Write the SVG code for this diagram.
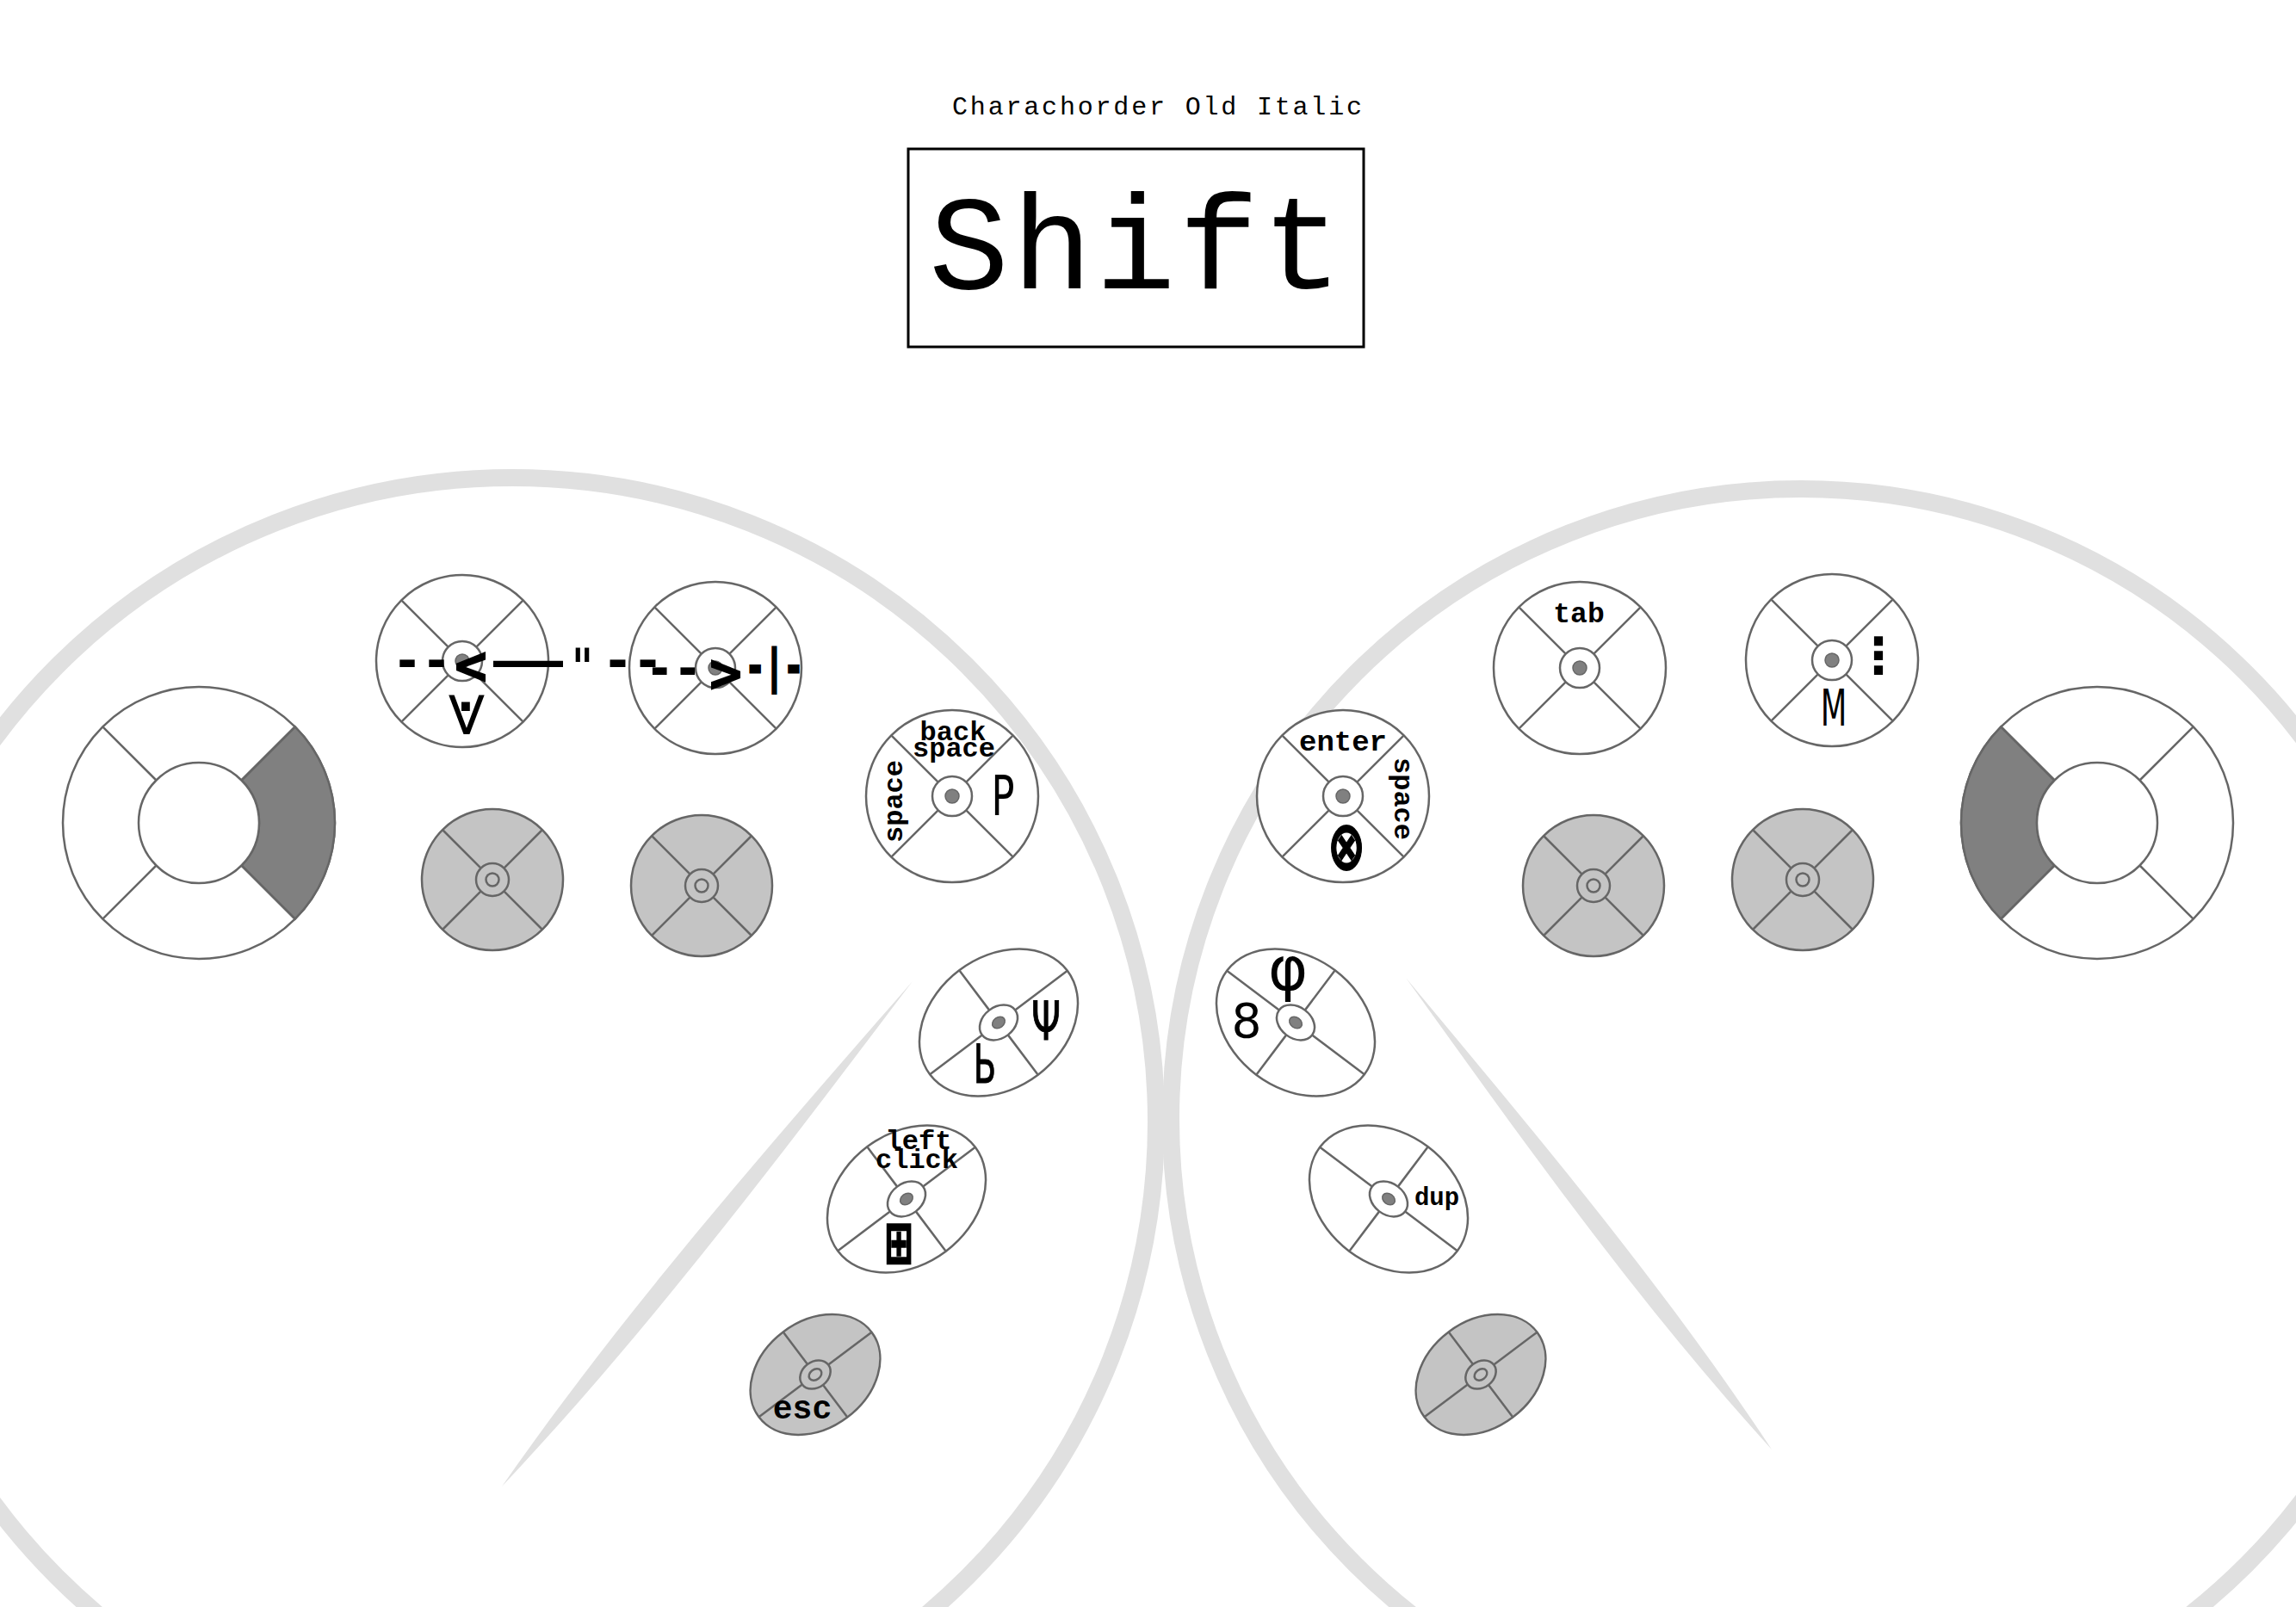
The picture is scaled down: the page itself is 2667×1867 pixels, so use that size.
<svg xmlns="http://www.w3.org/2000/svg" xmlns:xlink="http://www.w3.org/1999/xlink" width="2667" height="1867" viewBox="0 0 2667 1867">
<style>
.k{fill:#fff;stroke:#666;stroke-width:2.5}
.g{fill:#c4c4c4;stroke:#666;stroke-width:2.5}
.ln{fill:none;stroke:#666;stroke-width:2.5}
.dot{fill:#808080;stroke:#666;stroke-width:1.5}
.band{fill:none;stroke:#e0e0e0;stroke-width:20}
.lens{fill:#e0e0e0}
.lbl{font-family:"Liberation Mono","DejaVu Sans Mono",monospace;font-weight:bold;fill:#000}
.gl{font-family:"DejaVu Sans","Noto Sans",sans-serif;fill:#000}
.dm{font-family:"DejaVu Sans Mono","Liberation Mono",monospace;font-weight:bold;fill:#000}
</style>
<defs>
<g id="wkey">
<circle r="100" class="k"/>
<path class="ln" d="M16.3,16.3L70.7,70.7M-16.3,16.3L-70.7,70.7M16.3,-16.3L70.7,-70.7M-16.3,-16.3L-70.7,-70.7"/>
<circle r="23" class="k"/>
<circle r="8" class="dot"/>
</g>
<g id="gkey">
<circle r="82" class="g"/>
<path class="ln" d="M13.4,13.4L58,58M-13.4,13.4L-58,58M13.4,-13.4L58,-58M-13.4,-13.4L-58,-58"/>
<circle r="19" class="g"/>
<circle r="7.5" class="g"/>
</g>
<g id="well">
<ellipse rx="100" ry="76" class="k"/>
<path class="ln" d="M24,0L100,0M-24,0L-100,0M0,18L0,76M0,-18L0,-76"/>
<ellipse rx="24" ry="18" class="k"/>
<ellipse rx="8" ry="6" class="dot"/>
</g>
<g id="gell">
<ellipse rx="82" ry="62" class="g"/>
<path class="ln" d="M19,0L82,0M-19,0L-82,0M0,15L0,62M0,-15L0,-62"/>
<ellipse rx="19" ry="15" class="g"/>
<ellipse rx="8" ry="6" class="g"/>
</g>
</defs>
<rect width="2667" height="1867" fill="#fff"/>
<g id="background">
<circle cx="595" cy="1303" r="748" class="band"/>
<circle cx="2092" cy="1300" r="732" class="band"/>
<path class="lens" d="M1060,1140 C908,1341 756,1543 583,1727 C728,1519 894,1330 1060,1140Z"/>
<path class="lens" d="M1633,1136 C1781,1314 1930,1490 2058,1684 C1902,1513 1768,1324 1633,1136Z"/>
</g>
<g id="title">
<text x="1344" y="133" font-family="Liberation Mono, monospace" font-size="30" text-anchor="middle" textLength="476" fill="#000">Charachorder Old Italic</text>
<rect x="1055" y="173" width="529" height="230" fill="none" stroke="#000" stroke-width="3"/>
<text x="1319" y="335" font-family="Liberation Mono, monospace" font-size="155" text-anchor="middle" textLength="480" fill="#000">Shift</text>
</g>
<g id="ring-left" transform="translate(231,956)">
<circle r="158" class="k"/>
<path d="M49.5,-49.5L111.7,-111.7A158,158 0 0 1 111.7,111.7L49.5,49.5A70,70 0 0 0 49.5,-49.5Z" fill="#808080" stroke="#666" stroke-width="2.5"/>
<path class="ln" d="M49.5,49.5L111.7,111.7M-49.5,49.5L-111.7,111.7M49.5,-49.5L111.7,-111.7M-49.5,-49.5L-111.7,-111.7"/>
<circle r="70" class="k"/>
</g>
<g id="ring-right" transform="translate(2436,956)">
<circle r="158" class="k"/>
<path d="M-49.5,-49.5L-111.7,-111.7A158,158 0 0 0 -111.7,111.7L-49.5,49.5A70,70 0 0 1 -49.5,-49.5Z" fill="#808080" stroke="#666" stroke-width="2.5"/>
<path class="ln" d="M49.5,49.5L111.7,111.7M-49.5,49.5L-111.7,111.7M49.5,-49.5L111.7,-111.7M-49.5,-49.5L-111.7,-111.7"/>
<circle r="70" class="k"/>
</g>
<g id="key-l1">
<use xlink:href="#wkey" href="#wkey" transform="translate(537,768)"/>
<text class="gl" x="542" y="853" font-size="62" text-anchor="middle">V</text>
<text class="gl" x="541" y="840" font-size="56" font-weight="bold" text-anchor="middle">·</text>
</g>
<g id="key-l2">
<use xlink:href="#wkey" href="#wkey" transform="translate(831,776)"/>
</g>
<g id="labels-top">
<text class="dm" x="456" y="788" font-size="60" textLength="68" lengthAdjust="spacingAndGlyphs">--</text>
<text class="dm" x="528" y="795" font-size="64" textLength="38" lengthAdjust="spacingAndGlyphs" stroke="#000" stroke-width="1.5">&lt;</text>
<text class="dm" x="573" y="788" font-size="60" textLength="81" lengthAdjust="spacingAndGlyphs">—</text>
<text class="dm" x="664" y="797" font-size="60" textLength="25" lengthAdjust="spacingAndGlyphs">"</text>
<text class="dm" x="700" y="788" font-size="60" textLength="70" lengthAdjust="spacingAndGlyphs">--</text>
<text class="dm" x="750" y="797" font-size="60" textLength="65" lengthAdjust="spacingAndGlyphs">--</text>
<text class="dm" x="824" y="804" font-size="64" textLength="38" lengthAdjust="spacingAndGlyphs" stroke="#000" stroke-width="1.5">&gt;</text>
<text class="dm" x="866" y="793" font-size="54" textLength="67" lengthAdjust="spacingAndGlyphs" stroke="#000" stroke-width="3">-|-</text>
</g>
<g id="key-l3"><use xlink:href="#gkey" href="#gkey" transform="translate(572,1022)"/></g>
<g id="key-l4"><use xlink:href="#gkey" href="#gkey" transform="translate(815,1029)"/></g>
<g id="key-backspace">
<use xlink:href="#wkey" href="#wkey" transform="translate(1106,925)"/>
<text class="lbl" x="1107" y="860" font-size="32" text-anchor="middle">back</text>
<text class="lbl" x="1108" y="879" font-size="32" text-anchor="middle">space</text>
<text class="lbl" font-size="32" text-anchor="middle" transform="translate(1048,931) rotate(-90)">space</text>
<text class="gl" font-size="64" text-anchor="middle" transform="translate(1165,947) scale(0.7,1)">P</text>
</g>
<g id="key-enter">
<use xlink:href="#wkey" href="#wkey" transform="translate(1560,925)"/>
<text class="lbl" x="1560" y="872" font-size="34" text-anchor="middle">enter</text>
<text class="lbl" font-size="32" text-anchor="middle" transform="translate(1620,928) rotate(90)">space</text>
<text class="gl" font-size="74" font-weight="bold" text-anchor="middle" transform="translate(1564,1010) scale(0.72,1.08)" stroke="#000" stroke-width="1.5">⊗</text>
</g>
<g id="key-tab">
<use xlink:href="#wkey" href="#wkey" transform="translate(1835,776)"/>
<text class="lbl" x="1834" y="723" font-size="33" text-anchor="middle">tab</text>
</g>
<g id="key-m">
<use xlink:href="#wkey" href="#wkey" transform="translate(2128,767)"/>
<text class="gl" font-size="59" text-anchor="middle" transform="translate(2130,843) scale(0.6,1)">M</text>
<text class="gl" x="2182" y="782" font-size="58" font-weight="bold" text-anchor="middle">⋮</text>
</g>
<g id="key-r3"><use xlink:href="#gkey" href="#gkey" transform="translate(1851,1029)"/></g>
<g id="key-r4"><use xlink:href="#gkey" href="#gkey" transform="translate(2094,1022)"/></g>
<g id="key-thumb-l1">
<use xlink:href="#well" href="#well" transform="translate(1160,1188) rotate(-37)"/>
<text class="gl" font-size="62" text-anchor="middle" transform="translate(1215,1208) scale(0.7,1)" stroke="#000" stroke-width="1">Ψ</text>
<text class="gl" font-size="62" text-anchor="middle" transform="translate(1144,1258) scale(0.62,1)" stroke="#000" stroke-width="1">Ь</text>
</g>
<g id="key-thumb-l2">
<use xlink:href="#well" href="#well" transform="translate(1053,1393) rotate(-37)"/>
<text class="lbl" x="1067" y="1335" font-size="32" text-anchor="middle">left</text>
<text class="lbl" x="1065" y="1357" font-size="32" text-anchor="middle">click</text>
<text class="gl" font-size="66" font-weight="bold" text-anchor="middle" transform="translate(1044,1466) scale(0.6,1)" stroke="#000" stroke-width="2.5">⊞</text>
</g>
<g id="key-thumb-l3">
<use xlink:href="#gell" href="#gell" transform="translate(947,1597) rotate(-37)"/>
<text class="lbl" x="932" y="1648" font-size="38" text-anchor="middle">esc</text>
</g>
<g id="key-thumb-r1">
<use xlink:href="#well" href="#well" transform="translate(1505,1188) rotate(37)"/>
<text class="gl" x="1496" y="1150" font-size="70" text-anchor="middle">φ</text>
<text class="gl" x="1448" y="1205" font-size="55" text-anchor="middle">8</text>
</g>
<g id="key-thumb-r2">
<use xlink:href="#well" href="#well" transform="translate(1613,1393) rotate(37)"/>
<text class="lbl" x="1669" y="1400" font-size="29" text-anchor="middle">dup</text>
</g>
<g id="key-thumb-r3">
<use xlink:href="#gell" href="#gell" transform="translate(1720,1597) rotate(-37)"/>
</g>
<g id="connectors"/>
</svg>
